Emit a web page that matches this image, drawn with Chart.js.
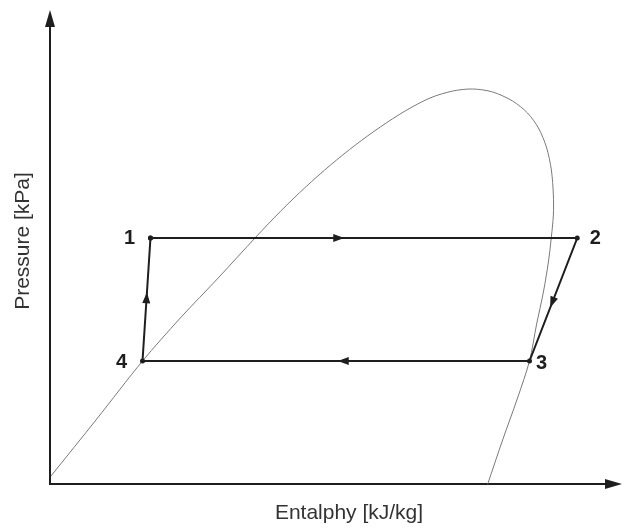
<!DOCTYPE html>
<html>
<head>
<meta charset="utf-8">
<script src="https://cdn.jsdelivr.net/npm/chart.js@4"></script>
<style>
  html, body { margin: 0; padding: 0; background: #ffffff; }
  #wrap { width: 626px; height: 528px; }
</style>
</head>
<body>
<div id="wrap"><canvas id="ph"></canvas></div>
<script>
// Refrigeration cycle states (arbitrary enthalpy / pressure units)
const stateLabels = ['1', '2', '3', '4'];
const stateEnthalpy = [101, 530, 482, 93];
const statePressure = [246, 246, 123, 123];

// Saturation dome (liquid line up to the critical point, then vapour line)
const domeEnthalpy = [1, 47, 93, 131, 170, 207, 232, 257, 282, 307, 332, 357, 382, 405, 425, 445, 465, 480, 491, 499, 504, 506, 506, 504, 501, 496, 489, 482, 470, 455, 440];
const domePressure = [8, 65, 123, 166, 207, 247, 273, 297, 319, 339, 357, 373, 386, 393, 395, 392, 383, 371, 356, 337, 314, 289, 269, 247, 222, 192, 159, 123, 86, 44, 0];

// Where along each process segment the direction arrow sits (fraction from start)
const arrowAt = [0.44, 0.52, 0.48, 0.51];

const axisTitles = { x: 'Entalphy [kJ/kg]', y: 'Pressure [kPa]' };

const domeData = domeEnthalpy.map((h, i) => ({ x: h, y: domePressure[i] }));
const cycleData = stateEnthalpy.map((h, i) => ({ x: h, y: statePressure[i] }));
cycleData.push({ x: stateEnthalpy[0], y: statePressure[0] });

const INK = '#1e1e1e';

const diagramPlugin = {
  id: 'phDiagram',
  beforeDatasetsDraw(chart) {
    const { ctx, chartArea: a } = chart;
    ctx.save();
    ctx.strokeStyle = INK;
    ctx.fillStyle = INK;
    ctx.lineWidth = 2;
    // axes
    ctx.beginPath();
    ctx.moveTo(a.left, a.top + 8);
    ctx.lineTo(a.left, a.bottom);
    ctx.lineTo(a.right - 8, a.bottom);
    ctx.stroke();
    // arrowheads on axes
    ctx.beginPath();
    ctx.moveTo(a.left, a.top);
    ctx.lineTo(a.left - 5, a.top + 17);
    ctx.lineTo(a.left + 5, a.top + 17);
    ctx.closePath();
    ctx.fill();
    ctx.beginPath();
    ctx.moveTo(a.right, a.bottom);
    ctx.lineTo(a.right - 17, a.bottom - 5);
    ctx.lineTo(a.right - 17, a.bottom + 5);
    ctx.closePath();
    ctx.fill();
    // axis titles
    ctx.fillStyle = '#333333';
    ctx.font = '21px "Liberation Sans", Arial, sans-serif';
    ctx.textAlign = 'center';
    ctx.textBaseline = 'middle';
    ctx.fillText(axisTitles.x, 349, a.bottom + 29);
    ctx.translate(23, 241);
    ctx.rotate(-Math.PI / 2);
    ctx.fillText(axisTitles.y, 0, 0);
    ctx.restore();
  },
  afterDatasetsDraw(chart) {
    const { ctx } = chart;
    const xs = chart.scales.x, ys = chart.scales.y;
    ctx.save();
    ctx.fillStyle = INK;
    // direction arrows along each process
    for (let i = 0; i < stateLabels.length; i++) {
      const j = (i + 1) % stateLabels.length;
      const x0 = xs.getPixelForValue(stateEnthalpy[i]);
      const y0 = ys.getPixelForValue(statePressure[i]);
      const x1 = xs.getPixelForValue(stateEnthalpy[j]);
      const y1 = ys.getPixelForValue(statePressure[j]);
      const t = arrowAt[i];
      const px = x0 + (x1 - x0) * t;
      const py = y0 + (y1 - y0) * t;
      const ang = Math.atan2(y1 - y0, x1 - x0);
      ctx.save();
      ctx.translate(px, py);
      ctx.rotate(ang);
      ctx.beginPath();
      ctx.moveTo(6, 0);
      ctx.lineTo(-5, -4);
      ctx.lineTo(-5, 4);
      ctx.closePath();
      ctx.fill();
      ctx.restore();
    }
    // state numbers
    const offs = [[-21, 0], [18, 0], [12, 2], [-21, 1]];
    ctx.font = 'bold 20px "Liberation Sans", Arial, sans-serif';
    ctx.textAlign = 'center';
    ctx.textBaseline = 'middle';
    stateLabels.forEach((lab, i) => {
      const px = xs.getPixelForValue(stateEnthalpy[i]);
      const py = ys.getPixelForValue(statePressure[i]);
      ctx.fillText(lab, px + offs[i][0], py + offs[i][1]);
    });
    ctx.restore();
  }
};

new Chart(document.getElementById('ph'), {
  type: 'scatter',
  data: {
    datasets: [
      {
        data: cycleData,
        showLine: true,
        borderColor: INK,
        backgroundColor: INK,
        borderWidth: 2,
        pointRadius: 2.5,
        pointBorderWidth: 0,
        tension: 0,
        order: 0
      },
      {
        data: domeData,
        showLine: true,
        borderColor: '#7a7a7a',
        borderWidth: 1,
        pointRadius: 0,
        tension: 0.3,
        order: 1
      }
    ]
  },
  options: {
    responsive: true,
    maintainAspectRatio: false,
    animation: false,
    layout: { padding: { left: 50, top: 10, right: 1, bottom: 44 } },
    plugins: { legend: { display: false }, tooltip: { enabled: false } },
    scales: {
      x: { type: 'linear', display: false, min: 0, max: 575 },
      y: { type: 'linear', display: false, min: 0, max: 474 }
    }
  },
  plugins: [diagramPlugin]
});
</script>
</body>
</html>
